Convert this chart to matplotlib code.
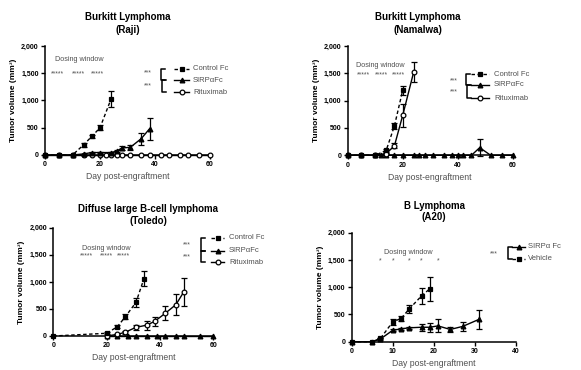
import numpy as np
import matplotlib.pyplot as plt
from matplotlib.lines import Line2D
from matplotlib.ticker import StrMethodFormatter

plt.rcParams['font.family'] = ['Liberation Sans', 'DejaVu Sans']

W, H = 581, 370
GREY = '#505050'

# ---- Burkitt Lymphoma (Raji)
raji_ctrl_day = [0, 5, 10, 14, 17, 20, 24]
raji_ctrl_vol = [0, 0, 0, 185, 340, 500, 1025]
raji_ctrl_err = [0, 0, 0, 30, 35, 45, 150]
raji_sirp_day = [0, 5, 10, 14, 17, 20, 24, 26, 28, 31, 35, 38]
raji_sirp_vol = [0, 0, 0, 20, 45, 45, 45, 70, 130, 140, 300, 480]
raji_sirp_err = [0, 0, 0, 0, 10, 10, 10, 20, 40, 40, 110, 200]
raji_ritux_day = [0, 5, 10, 14, 17, 20, 22, 24, 26, 28, 31, 35, 38, 42, 45, 49, 52, 56, 60]
raji_ritux_vol = [0] * 19
raji_ritux_err = [0] * 19

# ---- Burkitt Lymphoma (Namalwa)
nam_ctrl_day = [0, 5, 10, 14, 17, 20]
nam_ctrl_vol = [0, 0, 0, 90, 540, 1190]
nam_ctrl_err = [0, 0, 0, 30, 60, 80]
nam_sirp_day = [0, 5, 10, 12, 14, 17, 20, 24, 26, 28, 31, 35, 38, 40, 42, 45, 48, 52, 56, 60]
nam_sirp_vol = [0, 0, 0, 0, 0, 0, 0, 0, 0, 0, 0, 0, 0, 0, 0, 0, 140, 0, 0, 0]
nam_sirp_err = [0, 0, 0, 0, 0, 0, 0, 0, 0, 0, 0, 0, 0, 0, 0, 0, 160, 0, 0, 0]
nam_ritux_day = [0, 5, 10, 14, 17, 20, 24]
nam_ritux_vol = [0, 0, 0, 30, 175, 730, 1525]
nam_ritux_err = [0, 0, 0, 10, 50, 210, 180]

# ---- Diffuse large B-cell lymphoma (Toledo)
tol_ctrl_day = [0, 20, 24, 27, 31, 34]
tol_ctrl_vol = [0, 50, 170, 355, 620, 1060]
tol_ctrl_err = [0, 20, 30, 50, 80, 140]
tol_sirp_day = [20, 24, 28, 31, 35, 39, 42, 46, 49, 55, 60]
tol_sirp_vol = [0] * 11
tol_sirp_err = [0] * 11
tol_ritux_day = [20, 24, 27, 31, 35, 38, 42, 46, 49]
tol_ritux_vol = [0, 30, 70, 160, 200, 270, 420, 580, 820]
tol_ritux_err = [0, 15, 25, 50, 80, 90, 130, 200, 260]

# ---- B Lymphoma (A20)
a20_sirp_day = [0, 5, 7, 10, 12, 14, 17, 19, 21, 24, 27, 31]
a20_sirp_vol = [0, 0, 50, 210, 235, 255, 265, 265, 290, 225, 280, 410]
a20_sirp_err = [0, 0, 10, 20, 20, 20, 60, 80, 120, 50, 90, 180]
a20_veh_day = [0, 5, 7, 10, 12, 14, 17, 19]
a20_veh_vol = [0, 0, 60, 365, 425, 600, 840, 970]
a20_veh_err = [0, 0, 10, 50, 40, 80, 140, 220]

DASH = (0, (2.5, 1.8))
STYLE = {
    'ctrl': ('s', DASH, 'black'),
    'sirp': ('^', '-', 'black'),
    'ritux': ('o', '-', 'white'),
}
MS = 3.4


def px(x, y):
    return x / W, 1 - y / H


def draw_series(ax, days, vols, errs, kind):
    marker, ls, face = STYLE[kind]
    ax.plot(days, vols, ls=ls, color='black', lw=1.0, marker=marker, ms=MS,
            mfc=face, mec='black', mew=0.9, clip_on=False, zorder=3)
    d, v, e = np.array(days), np.array(vols), np.array(errs)
    m = e > 0
    if m.any():
        ax.errorbar(d[m], v[m], yerr=e[m], fmt='none', ecolor='black',
                    elinewidth=0.9, capsize=2, capthick=0.9, clip_on=False, zorder=2)


def setup(ax, xmax, xstep):
    ax.set_xlim(0, xmax)
    ax.set_ylim(0, 2000)
    ax.set_xticks(np.arange(0, xmax + 1, xstep))
    ax.set_yticks([0, 500, 1000, 1500, 2000])
    ax.yaxis.set_major_formatter(StrMethodFormatter('{x:,.0f}'))
    for s in ['top', 'right']:
        ax.spines[s].set_visible(False)
    for s in ['left', 'bottom']:
        ax.spines[s].set_linewidth(1.1)
    ax.tick_params(length=3, width=1, labelsize=5, pad=1.5)
    for lab in ax.get_xticklabels() + ax.get_yticklabels():
        lab.set_fontweight('bold')
    ax.set_xlabel('Day post-engraftment', fontsize=6.2, color=GREY, labelpad=3)
    ax.set_ylabel('Tumor volume (mm³)', fontsize=6, fontweight='bold', labelpad=3)


def title(fig, xc, y1, y2, l1, l2):
    fig.text(*px(xc, y1), l1, ha='center', va='center', fontsize=7, fontweight='bold')
    fig.text(*px(xc, y2), l2, ha='center', va='center', fontsize=7, fontweight='bold')


def dosing(ax, text_x, text_y, star_x, stars):
    ax.text(text_x, text_y, 'Dosing window', ha='center', va='center', fontsize=5.2, color=GREY)
    for x in star_x:
        ax.text(x, 1480, stars, ha='center', va='center', fontsize=5, color=GREY)


def sig_legend(fig, entries, hx0, hx1, tx, brackets, stars):
    for name, kind, y in entries:
        marker, ls, face = STYLE[kind]
        xs = [px(hx0, y)[0], px((hx0 + hx1) / 2, y)[0], px(hx1, y)[0]]
        ys = [px(0, y)[1]] * 3
        fig.add_artist(Line2D(xs, ys, transform=fig.transFigure, color='black', lw=1.0,
                              ls=ls, marker=marker, markevery=[1], ms=MS, mfc=face,
                              mec='black', mew=0.9))
        fig.text(*px(tx, y), name, ha='left', va='center', fontsize=5.5, color=GREY)
    for bx, y0, y1 in brackets:
        xs = [bx + 4, bx, bx, bx + 4]
        ys = [y0, y0, y1, y1]
        fig.add_artist(Line2D([x / W for x in xs], [1 - y / H for y in ys],
                              transform=fig.transFigure, color='black', lw=1.1))
    for sx, sy in stars:
        fig.text(*px(sx, sy), '***', ha='center', va='center', fontsize=5, color=GREY)


fig = plt.figure(figsize=(W / 100, H / 100), dpi=100)

# panel 1
ax1 = fig.add_axes([45 / W, 1 - 155 / H, 165 / W, 109 / H])
setup(ax1, 60, 20)
draw_series(ax1, raji_ritux_day, raji_ritux_vol, raji_ritux_err, 'ritux')
draw_series(ax1, raji_sirp_day, raji_sirp_vol, raji_sirp_err, 'sirp')
draw_series(ax1, raji_ctrl_day, raji_ctrl_vol, raji_ctrl_err, 'ctrl')
dosing(ax1, 12.4, 1760, [4.5, 12, 19], '*****')
title(fig, 128, 17, 30, 'Burkitt Lymphoma', '(Raji)')
sig_legend(fig, [('Control Fc', 'ctrl', 69), ('SIRPαFc', 'sirp', 80), ('Rituximab', 'ritux', 92)],
           174, 189, 193, [(161, 69, 80), (162, 80, 92)], [(148, 73), (148, 86)])

# panel 2
ax2 = fig.add_axes([347.7 / W, 1 - 155.3 / H, 165 / W, 109.3 / H])
setup(ax2, 60, 20)
draw_series(ax2, nam_sirp_day, nam_sirp_vol, nam_sirp_err, 'sirp')
draw_series(ax2, nam_ritux_day, nam_ritux_vol, nam_ritux_err, 'ritux')
draw_series(ax2, nam_ctrl_day, nam_ctrl_vol, nam_ctrl_err, 'ctrl')
dosing(ax2, 12.0, 1650, [5.8, 12.2, 18.6], '*****')
title(fig, 418, 17, 30, 'Burkitt Lymphoma', '(Namalwa)')
sig_legend(fig, [('Control Fc', 'ctrl', 74), ('SIRPαFc', 'sirp', 85), ('Rituximab', 'ritux', 98)],
           471, 489, 494, [(466, 74, 85), (467, 85, 98)], [(454, 80.5), (454, 92)])

# panel 3
ax3 = fig.add_axes([53.3 / W, 1 - 336 / H, 160 / W, 108.3 / H])
setup(ax3, 60, 20)
draw_series(ax3, tol_sirp_day, tol_sirp_vol, tol_sirp_err, 'sirp')
draw_series(ax3, tol_ritux_day, tol_ritux_vol, tol_ritux_err, 'ritux')
draw_series(ax3, tol_ctrl_day, tol_ctrl_vol, tol_ctrl_err, 'ctrl')
dosing(ax3, 19.7, 1620, [12.4, 19.8, 26.5], '*****')
title(fig, 148, 209, 221, 'Diffuse large B-cell lymphoma', '(Toledo)')
sig_legend(fig, [('Control Fc', 'ctrl', 237.5), ('SIRPαFc', 'sirp', 250.7), ('Rituximab', 'ritux', 262)],
           211, 224, 229, [(201, 237.5, 250.7), (201, 250.7, 262)], [(187, 245), (187, 256.7)])

# panel 4
ax4 = fig.add_axes([351.7 / W, 1 - 341.7 / H, 164.3 / W, 109 / H])
setup(ax4, 40, 10)
draw_series(ax4, a20_sirp_day, a20_sirp_vol, a20_sirp_err, 'sirp')
draw_series(ax4, a20_veh_day, a20_veh_vol, a20_veh_err, 'ctrl')
dosing(ax4, 13.7, 1640, [7, 10, 14, 17, 21], '*')
title(fig, 434, 205.7, 217, 'B Lymphoma', '(A20)')
sig_legend(fig, [('SIRPα Fc', 'sirp', 246.7), ('Vehicle', 'ctrl', 259)],
           512, 525, 528, [(508, 246.7, 259)], [(494, 254)])

fig.savefig('out.png', dpi=100)
